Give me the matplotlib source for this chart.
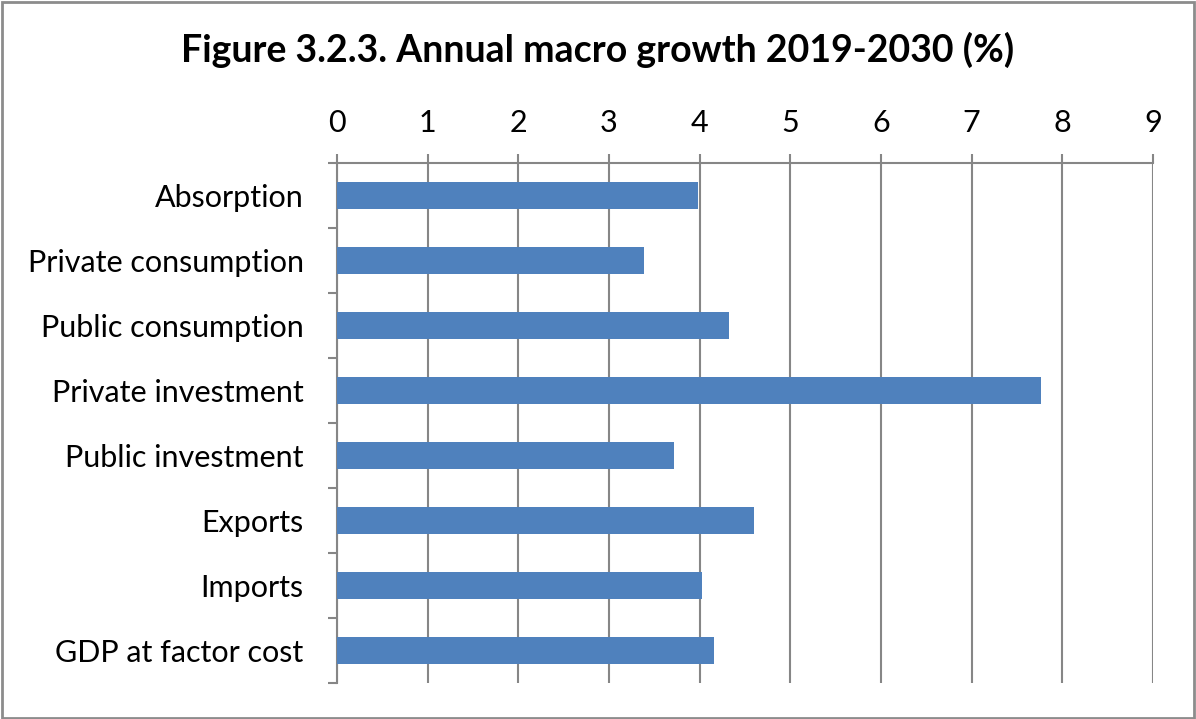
import matplotlib.pyplot as plt
import numpy as np

categories = ['Absorption', 'Private consumption', 'Public consumption',
              'Private investment', 'Public investment', 'Exports',
              'Imports', 'GDP at factor cost']
growth = [3.98, 3.39, 4.32, 7.76, 3.72, 4.60, 4.03, 4.16]
xticks = list(range(0, 10))

plt.rcParams['font.family'] = ['Lato', 'DejaVu Sans']

fig = plt.figure(figsize=(11.96, 7.19), dpi=100)
ax = fig.add_axes([337 / 1196, 1 - 683 / 719, (1153 - 337) / 1196, (683 - 163) / 719])

y = np.arange(len(categories))
ax.barh(y, growth, height=0.42, color='#4F81BD', zorder=3)

ax.set_xlim(0, 9)
ax.set_ylim(len(categories) - 0.5, -0.5)
ax.xaxis.tick_top()
ax.set_xticks(xticks)
ax.set_xticklabels([str(t) for t in xticks], fontsize=22)
ax.tick_params(axis='x', length=6.5, width=1.5, color='#868686', pad=12)
ax.grid(axis='x', color='#868686', linewidth=1.5, zorder=1)

ax.set_yticks(y)
ax.set_yticklabels(categories, fontsize=22)
ax.tick_params(axis='y', which='major', length=0, pad=24)
ax.set_yticks(np.arange(-0.5, len(categories)), minor=True)
ax.tick_params(axis='y', which='minor', length=6.5, width=1.5, color='#868686')

for s in ['right', 'bottom']:
    ax.spines[s].set_visible(False)
for s in ['top', 'left']:
    ax.spines[s].set_color('#868686')
    ax.spines[s].set_linewidth(1.5)

fig.text(0.5, 1 - 50 / 719, 'Figure 3.2.3. Annual macro growth 2019-2030 (%)',
         ha='center', va='center', fontsize=27, fontweight='bold')

fig.patches.append(plt.Rectangle((0.002, 0.002), 0.996, 0.995, transform=fig.transFigure,
                                 fill=False, edgecolor='#8c8c8c', linewidth=2))

fig.savefig('out.png', dpi=100)
